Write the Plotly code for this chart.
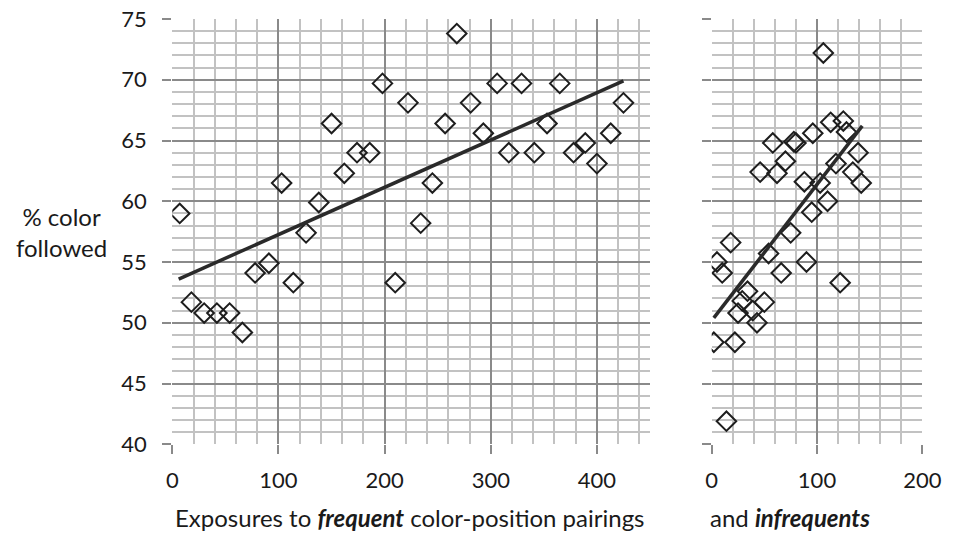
import plotly.graph_objects as go

# ---- data ----
freq_x = [7, 18, 30, 42, 54, 66, 78, 91, 103, 114, 126, 138, 150, 162, 174, 186, 198, 210,
          222, 234, 245, 257, 268, 281, 293, 306, 317, 329, 341, 353, 365, 378, 389, 400, 413, 425]
freq_y = [59.0, 51.7, 50.8, 50.8, 50.8, 49.2, 54.1, 54.9, 61.5, 53.3, 57.4, 59.9, 66.4, 62.3, 64.0,
          64.0, 69.7, 53.3, 68.1, 58.2, 61.5, 66.4, 73.8, 68.1, 65.6, 69.7, 64.0, 69.7, 64.0, 66.4,
          69.7, 64.0, 64.8, 63.1, 65.6, 68.1]
freq_trend_x = [6, 425]
freq_trend_y = [53.6, 69.9]

infreq_x = [2, 5, 10, 18, 14, 22, 25, 29, 34, 39, 43, 46, 50, 54, 58, 62, 66, 70, 75, 78, 80,
            88, 90, 95, 96, 103, 106, 110, 113, 118, 122, 125, 128, 134, 139, 142]
infreq_y = [48.4, 55.0, 54.1, 56.6, 41.9, 48.4, 50.8, 51.8, 52.6, 51.0, 50.0, 62.4, 51.7, 55.7,
            64.8, 62.3, 54.1, 63.3, 57.4, 64.9, 64.8, 61.6, 55.0, 59.1, 65.6, 61.5, 72.2, 60.0,
            66.5, 63.1, 53.3, 66.6, 65.7, 62.4, 64.0, 61.5]
infreq_trend_x = [2, 143]
infreq_trend_y = [50.4, 66.2]

y_ticks = [40, 45, 50, 55, 60, 65, 70, 75]
freq_ticks = [0, 100, 200, 300, 400]
infreq_ticks = [0, 100, 200]

# page body has an 8px margin: build the figure 8px smaller and offset positions
OFF = 8
W, H = 954 - OFF, 533 - OFF


def px(x):
    return (x - OFF) / W


def py(y):
    return 1 - (y - OFF) / H


FONT = "Lato"
TXT = "#1a1a1a"
MAJ = "#8a8a8a"
MIN = "#c2c2c2"

fig = go.Figure()
mk = dict(symbol="diamond-open", size=15, color="#1e1e1e", line=dict(width=2, color="#1e1e1e"))
fig.add_trace(go.Scatter(x=freq_x, y=freq_y, mode="markers", marker=mk, xaxis="x", yaxis="y"))
fig.add_trace(go.Scatter(x=freq_trend_x, y=freq_trend_y, mode="lines",
                         line=dict(color="#2a2a2a", width=3.5), xaxis="x", yaxis="y"))
fig.add_trace(go.Scatter(x=infreq_x, y=infreq_y, mode="markers", marker=mk, xaxis="x2", yaxis="y2"))
fig.add_trace(go.Scatter(x=infreq_trend_x, y=infreq_trend_y, mode="lines",
                         line=dict(color="#2a2a2a", width=3.5), xaxis="x2", yaxis="y2"))

ydom = [py(444.3), py(19)]
common_x = dict(showgrid=True, gridcolor=MAJ, gridwidth=1.6, zeroline=False,
                ticks="outside", ticklen=9, tickwidth=1.6, tickcolor=MAJ,
                showline=False, tickfont=dict(family=FONT, size=22, color=TXT),
                minor=dict(dtick=20, showgrid=True, gridcolor=MIN, gridwidth=1.6, ticks=""),
                ticklabelstandoff=7, fixedrange=True, automargin=False, ticklabeloverflow="allow")
common_y = dict(showgrid=True, gridcolor=MAJ, gridwidth=1.6, zeroline=False,
                range=[40, 75], tickvals=y_ticks, ticks="outside", ticklen=9, tickwidth=1.6,
                tickcolor=MAJ, showline=False,
                minor=dict(dtick=1, showgrid=True, gridcolor=MIN, gridwidth=1.6, ticks=""),
                fixedrange=True, automargin=False, ticklabeloverflow="allow")

fig.update_layout(
    width=W, height=H, margin=dict(l=0, r=0, t=0, b=0, autoexpand=False),
    paper_bgcolor="white", plot_bgcolor="white", showlegend=False,
    font=dict(family=FONT, size=22, color=TXT),
    xaxis=dict(domain=[px(172.3), px(650)], range=[0, 450], tickvals=freq_ticks, anchor="y", **common_x),
    yaxis=dict(domain=ydom, anchor="x", tickfont=dict(family=FONT, size=22, color=TXT),
               ticklabelstandoff=11, **common_y),
    xaxis2=dict(domain=[px(711.7), px(922.3)], range=[0, 200], tickvals=infreq_ticks, anchor="y2", **common_x),
    yaxis2=dict(domain=ydom, anchor="x2", showticklabels=False, **common_y),
)

fig.add_annotation(text="% color<br>followed", x=px(61), y=py(232), xref="paper", yref="paper",
                   showarrow=False, xanchor="center", yanchor="middle", align="center",
                   font=dict(family=FONT, size=24, color=TXT))
fig.add_annotation(text="Exposures to <b><i>frequent</i></b> color-position pairings",
                   x=px(410), y=py(517), xref="paper", yref="paper", showarrow=False,
                   xanchor="center", yanchor="middle", font=dict(family=FONT, size=24, color=TXT))
fig.add_annotation(text="and <b><i>infrequents</i></b>",
                   x=px(790), y=py(517), xref="paper", yref="paper", showarrow=False,
                   xanchor="center", yanchor="middle", font=dict(family=FONT, size=24, color=TXT))

fig.write_html("out.html")
